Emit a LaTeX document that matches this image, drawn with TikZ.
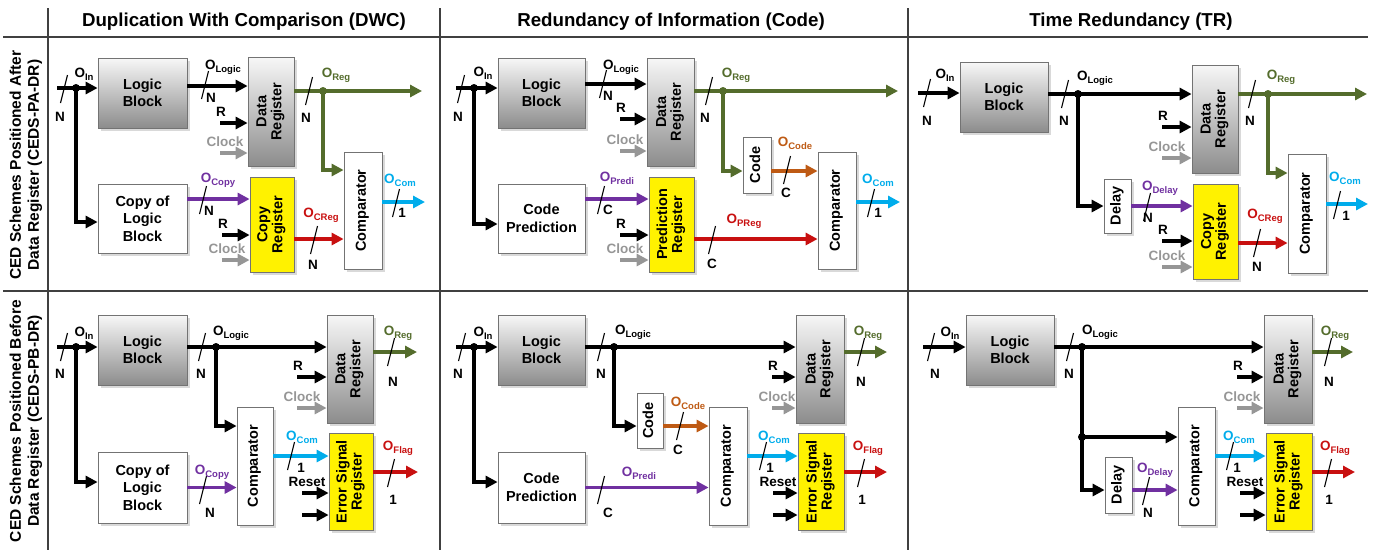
\documentclass[tikz,border=0pt]{standalone}
\usepackage{fontspec}
\setmainfont{Liberation Sans}
\usepackage{tikz}
\usetikzlibrary{arrows.meta,positioning,shadows,calc}
\definecolor{regG}{RGB}{84,108,44}
\definecolor{cpyP}{RGB}{112,48,160}
\definecolor{errR}{RGB}{200,16,16}
\definecolor{comC}{RGB}{0,172,235}
\definecolor{codeO}{RGB}{190,90,20}
\definecolor{clkG}{RGB}{150,150,150}
\newcommand{\osig}[1]{O\raisebox{-3pt}{\fontsize{9.5}{10}\selectfont#1}}
\newcommand{\vtxt}[1]{\rotatebox{90}{\renewcommand\arraystretch{.85}\begin{tabular}{@{}c@{}}#1\end{tabular}}}

\begin{document}
\begin{tikzpicture}[x=1pt,y=-1pt,
  font=\bfseries\fontsize{13.5}{15}\selectfont,
  >={Triangle[length=12pt,width=12pt]},
  box/.style={draw=black!55,line width=.8pt,inner sep=0pt,align=center,
    font=\bfseries\fontsize{14.5}{17.5}\selectfont,
    drop shadow={shadow xshift=2.5pt,shadow yshift=-2.5pt,opacity=.3}},
  gbox/.style={box,top color=black!3,bottom color=black!45},
  wbox/.style={box,fill=white},
  ybox/.style={box,fill=yellow},
  bus/.style={line width=3.4pt,->},
  bw/.style={line width=1.1pt},
  dot/.style={circle,fill,inner sep=0pt,minimum size=8pt},
  tabline/.style={line width=1.3pt,draw=black!75},
  hd/.style={font=\bfseries\fontsize{18.7}{20}\selectfont},
  row/.style={rotate=90,align=center,font=\bfseries\fontsize{15.5}{18}\selectfont}]
\useasboundingbox (0,0) rectangle (1375,550);
% table frame and titles
\draw[tabline] (48,8) -- (48,550) (440,8) -- (440,550) (908,8) -- (908,550)
  (3,37) -- (1368,37) (3,291) -- (1368,291);
\node[hd] (hDWC) at (244,22) {Duplication With Comparison (DWC)};
\node[hd] (hCode) at (671,22) {Redundancy of Information (Code)};
\node[hd] (hTR) at (1131,22) {Time Redundancy (TR)};
\node[row] (rAfter) at (26,165) {CED Schemes Positioned After\\Data Register (CEDS-PA-DR)};
\node[row] (rBefore) at (26,421) {CED Schemes Positioned Before\\Data Register (CEDS-PB-DR)};
% DWC, after the data register
\node[gbox,minimum width=89pt,minimum height=70pt] (ALB) at (142.5,93) {Logic\\Block};
\node[wbox,minimum width=89pt,minimum height=69pt] (ACL) at (142.5,218.5) {Copy of\\Logic\\Block};
\node[gbox,minimum width=46pt,minimum height=109pt] (ADR) at (271,111.5) {\vtxt{Data\\Register}};
\node[ybox,minimum width=44pt,minimum height=95pt] (ACR) at (272,224.5) {\vtxt{Copy\\Register}};
\node[wbox,minimum width=38pt,minimum height=117pt] (ACM) at (363,210.5) {\vtxt{Comparator}};
\coordinate (AIn) at (57,88);
\node[dot] (AJ) at (76,88) {};
\draw[bus] (AIn) -- (AIn -| ALB.west);
\draw[bus] (AJ.center) |- ([yshift=-3.5pt]ACL.west);
\draw[bus] ([yshift=7pt]ALB.east) coordinate (ALo) -- (ALo -| ADR.west);
\coordinate (AOr) at (422,91);
\node[dot,regG] (AJ2) at (323,91) {};
\draw[bus,regG] (AOr -| ADR.east) -- (AOr);
\draw[bus,regG] (AJ2.center) |- ([yshift=40.5pt]ACM.west);
\draw[bus,cpyP] ([yshift=19.5pt]ACL.east) coordinate (ACo) -- (ACo -| ACR.west);
\draw[bus,errR] ([yshift=-14.5pt]ACR.east) coordinate (ACRo) -- (ACRo -| ACM.west);
\coordinate (AOc) at (425,202);
\draw[bus,comC] (AOc -| ACM.east) -- (AOc);
% Code, after the data register
\node[gbox,minimum width=87pt,minimum height=70pt] (BLB) at (541.5,93) {Logic\\Block};
\node[wbox,minimum width=87pt,minimum height=69pt] (BCP) at (541.5,218.5) {Code\\Prediction};
\node[gbox,minimum width=47pt,minimum height=108pt] (BDR) at (670.5,112) {\vtxt{Data\\Register}};
\node[ybox,minimum width=45pt,minimum height=95pt] (BPR) at (671.5,224.5) {\vtxt{Prediction\\Register}};
\node[wbox,minimum width=28pt,minimum height=56pt] (BCO) at (757,165) {\vtxt{Code}};
\node[wbox,minimum width=38pt,minimum height=117pt] (BCM) at (837,210.5) {\vtxt{Comparator}};
\coordinate (BIn) at (456,88);
\node[dot] (BJ) at (474,88) {};
\draw[bus] (BIn) -- (BIn -| BLB.west);
\draw[bus] (BJ.center) |- ([yshift=-5.5pt]BCP.west);
\draw[bus] ([yshift=9pt]BLB.east) coordinate (BLo) -- (BLo -| BDR.west);
\coordinate (BOr) at (898,91);
\node[dot,regG] (BJ2) at (723,91) {};
\draw[bus,regG] (BOr -| BDR.east) -- (BOr);
\draw[bus,regG] (BJ2.center) |- ([yshift=-6pt]BCO.west);
\draw[bus,codeO] ([yshift=-6pt]BCO.east) coordinate (BCOo) -- (BCOo -| BCM.west);
\draw[bus,cpyP] ([yshift=19.5pt]BCP.east) coordinate (BCPo) -- (BCPo -| BPR.west);
\draw[bus,errR] ([yshift=-14.5pt]BPR.east) coordinate (BPRo) -- (BPRo -| BCM.west);
\coordinate (BOc) at (900,202);
\draw[bus,comC] (BOc -| BCM.east) -- (BOc);
% TR, after the data register
\node[gbox,minimum width=88pt,minimum height=70pt] (CLB) at (1004,97) {Logic\\Block};
\node[wbox,minimum width=27pt,minimum height=54pt] (CDL) at (1117.5,206) {\vtxt{Delay}};
\node[gbox,minimum width=46pt,minimum height=108pt] (CDR) at (1215,119) {\vtxt{Data\\Register}};
\node[ybox,minimum width=45pt,minimum height=95pt] (CCR) at (1215.5,231.5) {\vtxt{Copy\\Register}};
\node[wbox,minimum width=38pt,minimum height=119pt] (CCM) at (1307,213.5) {\vtxt{Comparator}};
\coordinate (CIn) at (918,93);
\draw[bus] (CIn) -- (CIn -| CLB.west);
\draw[bus] ([yshift=3pt]CLB.east) coordinate (CLo) -- (CLo -| CDR.west);
\node[dot] (CJ) at (1078,94) {};
\draw[bus] (CJ.center) |- (CDL.west);
\coordinate (COr) at (1367,94);
\node[dot,regG] (CJ2) at (1268,94) {};
\draw[bus,regG] (COr -| CDR.east) -- (COr);
\draw[bus,regG] (CJ2.center) |- ([yshift=40.5pt]CCM.west);
\draw[bus,cpyP] (CDL) -- (CDL -| CCR.west);
\draw[bus,errR] ([yshift=-11.5pt]CCR.east) coordinate (CCRo) -- (CCRo -| CCM.west);
\coordinate (COc) at (1368,204);
\draw[bus,comC] (COc -| CCM.east) -- (COc);
% DWC, before the data register
\node[gbox,minimum width=89pt,minimum height=70pt] (DLB) at (142.5,350) {Logic\\Block};
\node[wbox,minimum width=89pt,minimum height=71pt] (DCL) at (142.5,487.5) {Copy of\\Logic\\Block};
\node[wbox,minimum width=36pt,minimum height=118pt] (DCM) at (255,466) {\vtxt{Comparator}};
\node[gbox,minimum width=46pt,minimum height=108pt] (DDR) at (350,369) {\vtxt{Data\\Register}};
\node[ybox,minimum width=44pt,minimum height=97pt] (DER) at (351,481.5) {\vtxt{Error Signal\\Register}};
\coordinate (DIn) at (57,347);
\node[dot] (DJ) at (76,347) {};
\draw[bus] (DIn) -- (DIn -| DLB.west);
\draw[bus] (DJ.center) |- ([yshift=5.5pt]DCL.west);
\draw[bus] ([yshift=3pt]DLB.east) coordinate (DLo) -- (DLo -| DDR.west);
\node[dot] (DJ2) at (216,347) {};
\draw[bus] (DJ2.center) |- ([yshift=40pt]DCM.west);
\draw[bus,cpyP] (DCL) -- (DCL -| DCM.west);
\coordinate (DOr) at (417,352);
\draw[bus,regG] (DOr -| DDR.east) -- (DOr);
\draw[bus,comC] ([yshift=10pt]DCM.east) coordinate (DCMo) -- (DCMo -| DER.west);
\coordinate (DOf) at (418,472);
\draw[bus,errR] (DOf -| DER.east) -- (DOf);
% Code, before the data register
\node[gbox,minimum width=87pt,minimum height=70pt] (ELB) at (541.5,350) {Logic\\Block};
\node[wbox,minimum width=87pt,minimum height=71pt] (ECP) at (541.5,487.5) {Code\\Prediction};
\node[wbox,minimum width=26pt,minimum height=55pt] (ECO) at (650,420.5) {\vtxt{Code}};
\node[wbox,minimum width=38pt,minimum height=118pt] (ECM) at (728,466) {\vtxt{Comparator}};
\node[gbox,minimum width=48pt,minimum height=108pt] (EDR) at (820,369) {\vtxt{Data\\Register}};
\node[ybox,minimum width=46pt,minimum height=97pt] (EER) at (821,481.5) {\vtxt{Error Signal\\Register}};
\coordinate (EIn) at (456,347);
\node[dot] (EJ) at (474,347) {};
\draw[bus] (EIn) -- (EIn -| ELB.west);
\draw[bus] (EJ.center) |- ([yshift=5.5pt]ECP.west);
\draw[bus] ([yshift=3pt]ELB.east) coordinate (ELo) -- (ELo -| EDR.west);
\node[dot] (EJ2) at (614,347) {};
\draw[bus] (EJ2.center) |- ([yshift=-5.5pt]ECO.west);
\draw[bus,codeO] ([yshift=-5.5pt]ECO.east) coordinate (ECOo) -- (ECOo -| ECM.west);
\draw[bus,cpyP] (ECP) -- (ECP -| ECM.west);
\coordinate (EOr) at (887,352);
\draw[bus,regG] (EOr -| EDR.east) -- (EOr);
\draw[bus,comC] ([yshift=10pt]ECM.east) coordinate (ECMo) -- (ECMo -| EER.west);
\coordinate (EOf) at (887,472);
\draw[bus,errR] (EOf -| EER.east) -- (EOf);
% TR, before the data register
\node[gbox,minimum width=88pt,minimum height=70pt] (FLB) at (1010,350) {Logic\\Block};
\node[wbox,minimum width=27pt,minimum height=56pt] (FDL) at (1118.5,485) {\vtxt{Delay}};
\node[wbox,minimum width=37pt,minimum height=118pt] (FCM) at (1196.5,466) {\vtxt{Comparator}};
\node[gbox,minimum width=48pt,minimum height=108pt] (FDR) at (1288,369) {\vtxt{Data\\Register}};
\node[ybox,minimum width=46pt,minimum height=97pt] (FER) at (1289,481.5) {\vtxt{Error Signal\\Register}};
\coordinate (FIn) at (923,347);
\draw[bus] (FIn) -- (FIn -| FLB.west);
\draw[bus] ([yshift=3pt]FLB.east) coordinate (FLo) -- (FLo -| FDR.west);
\node[dot] (FJ) at (1082,347) {};
\node[dot] (FJ3) at (1082,437) {};
\draw[bus] (FJ.center) |- ([yshift=-5pt]FDL.west);
\draw[bus] (FJ3.center) -- (FJ3 -| FCM.west);
\draw[bus,cpyP] ([yshift=-5pt]FDL.east) coordinate (FDLo) -- (FDLo -| FCM.west);
\coordinate (FOr) at (1353,352);
\draw[bus,regG] (FOr -| FDR.east) -- (FOr);
\draw[bus,comC] ([yshift=10pt]FCM.east) coordinate (FCMo) -- (FCMo -| FER.west);
\coordinate (FOf) at (1355,472);
\draw[bus,errR] (FOf -| FER.east) -- (FOf);
% R and Clock inputs of the registers
\foreach \rg/\x/\y/\v in {ADR/220/123/153, ACR/222/235/260, BDR/620/119/151, BPR/620/235/260,
  CDR/1162/127/158, CCR/1162/241/267, DDR/297/377/408, EDR/772/377/408, FDR/1237/377/408} {
  \coordinate (r\rg) at (\x,\y);
  \coordinate (c\rg) at (\x,\v);
  \draw[bus] (r\rg) -- (r\rg -| \rg.west);
  \draw[bus,clkG] (c\rg) -- (c\rg -| \rg.west);
  \node (lr\rg) at ([xshift=1pt,yshift=11pt]r\rg) {R};
  \node[clkG] (lc\rg) at ([xshift=5pt,yshift=11.5pt]c\rg) {Clock};
}
\foreach \rg/\x/\y in {DER/302/493, EER/773/493, FER/1240/493} {
  \coordinate (s\rg) at (\x,\y);
  \coordinate (t\rg) at (\x,\y+22);
  \draw[bus] (s\rg) -- (s\rg -| \rg.west);
  \draw[bus] (t\rg) -- (t\rg -| \rg.west);
  \node (ls\rg) at ([xshift=5pt,yshift=11pt]s\rg) {Reset};
}
% bus width marks
\foreach \x/\y in {64/89, 205/85, 309/91, 203/200, 314/240, 396/203,
  461/89, 603/84, 709/91, 787/170, 601/200, 712/240, 871/203,
  927/93, 1065/94, 1252/94, 1147/207, 1257/243, 1337/205,
  64/347, 202/347, 203/490, 291/456, 391/352, 391/473,
  462/347, 601/347, 680/426, 601/490, 763/456, 861/352, 861/473,
  931/347, 1070/347, 1146/491, 1230/456, 1328/352, 1328/473}
  \draw[bw] (\x-3.5,\y+14) -- (\x+3.5,\y-14);
% signal names
\foreach \n/\x/\y/\cl/\tx in {
  AoIn/84/74/black/\osig{In}, AoLg/223/67/black/\osig{Logic}, AoRg/336/75/regG/\osig{Reg},
  AoCp/218/180/cpyP/\osig{Copy}, AoCR/321/215/errR/\osig{CReg}, AoCm/400/180/comC/\osig{Com},
  BoIn/483/73/black/\osig{In}, BoLg/621/67/black/\osig{Logic}, BoRg/736/75/regG/\osig{Reg},
  BoCd/795/143/codeO/\osig{Code}, BoPd/617/178/cpyP/\osig{Predi}, BoPR/744/221/errR/\osig{PReg},
  BoCm/878/180/comC/\osig{Com},
  CoIn/945/75/black/\osig{In}, CoLg/1095/78/black/\osig{Logic}, CoRg/1281/77/regG/\osig{Reg},
  CoDl/1160/188/cpyP/\osig{Delay}, CoCR/1265/216/errR/\osig{CReg}, CoCm/1345/178/comC/\osig{Com},
  DoIn/84/333/black/\osig{In}, DoLg/231/333/black/\osig{Logic}, DoCp/212/472/cpyP/\osig{Copy},
  DoCm/302/437/comC/\osig{Com}, DoRg/398/333/regG/\osig{Reg}, DoFl/398/448/errR/\osig{Flag},
  EoIn/483/333/black/\osig{In}, EoLg/633/332/black/\osig{Logic}, EoCd/688/403/codeO/\osig{Code},
  EoPd/639/473/cpyP/\osig{Predi}, EoCm/774/437/comC/\osig{Com}, EoRg/868/333/regG/\osig{Reg},
  EoFl/868/448/errR/\osig{Flag},
  FoIn/950/333/black/\osig{In}, FoLg/1100/332/black/\osig{Logic}, FoDl/1155/470/cpyP/\osig{Delay},
  FoCm/1239/437/comC/\osig{Com}, FoRg/1335/333/regG/\osig{Reg}, FoFl/1335/448/errR/\osig{Flag}}
  \node[text=\cl] (\n) at (\x,\y) {\tx};
\foreach \n/\x/\y/\tx in {AnIn/60/117/N, AnLg/211/98/N, AnRg/306/118/N, AnCp/209/211/N,
  AnCR/313/265/N, AnCm/402/213/1,
  BnIn/458/117/N, BnLg/608/96/N, BnRg/705/118/N, BnCd/786/193/C, BnPd/608/210/C,
  BnPR/712/264/C, BnCm/878/213/1,
  CnIn/927/121/N, CnLg/1064/121/N, CnRg/1250/121/N, CnDl/1148/218/N, CnCR/1257/267/N,
  CnCm/1346/216/1,
  DnIn/60/374/N, DnLg/201/374/N, DnCp/210/513/N, DnCm/301/468/1, DnRg/393/382/N, DnFl/393/500/1,
  EnIn/458/374/N, EnLg/601/374/N, EnCd/678/450/C, EnPd/608/513/C, EnCm/770/468/1,
  EnRg/861/382/N, EnFl/862/500/1,
  FnIn/935/374/N, FnLg/1069/374/N, FnDl/1148/513/N, FnCm/1237/468/1, FnRg/1329/382/N,
  FnFl/1329/500/1}
  \node (\n) at (\x,\y) {\tx};
\end{tikzpicture}
\end{document}
